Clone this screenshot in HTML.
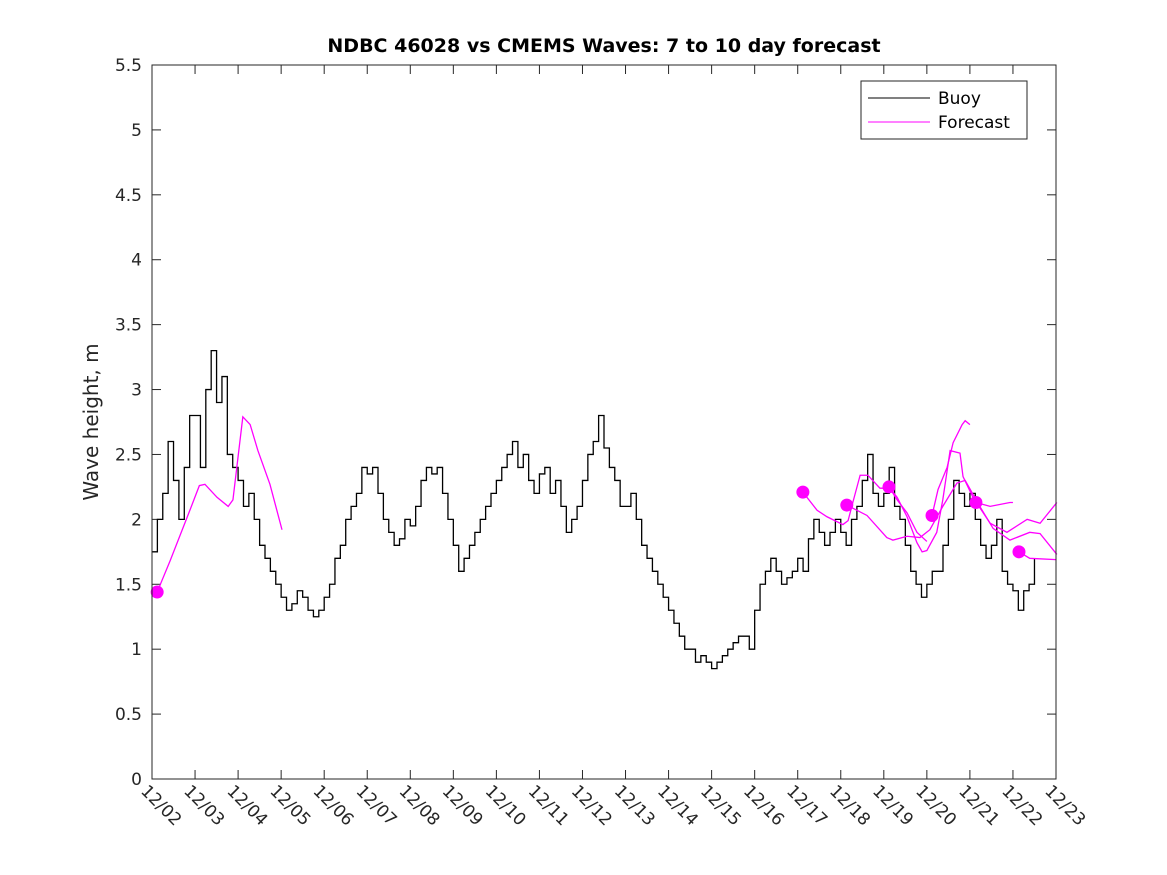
<!DOCTYPE html>
<html><head><meta charset="utf-8"><style>
body{margin:0;background:#fff;}
svg{display:block;font-family:"DejaVu Sans","Liberation Sans",sans-serif;}
</style></head><body>
<svg id="chart" width="1167" height="875" viewBox="0 0 1167 875" xmlns="http://www.w3.org/2000/svg">
<rect width="1167" height="875" fill="#fff"/>
<text x="604" y="52" text-anchor="middle" font-size="19" font-weight="bold" fill="#000">NDBC 46028 vs CMEMS Waves: 7 to 10 day forecast</text>
<text transform="translate(98,422) rotate(-90)" text-anchor="middle" font-size="20" fill="#262626">Wave height, m</text>
<g id="plot"></g>
<rect x="152" y="65" width="904" height="714" fill="none" stroke="#262626" stroke-width="1"/>
<g>
<rect x="861" y="81" width="166" height="58" fill="#fff" stroke="#262626" stroke-width="1"/>
<line x1="868" y1="98" x2="930" y2="98" stroke="#000" stroke-width="1"/>
<text x="938" y="104" font-size="17" fill="#000">Buoy</text>
<line x1="868" y1="122" x2="930" y2="122" stroke="#f0f" stroke-width="1"/>
<text x="938" y="128" font-size="17" fill="#000">Forecast</text>
</g>
</svg>
<script>
const xLabels=["12/02","12/03","12/04","12/05","12/06","12/07","12/08","12/09","12/10","12/11","12/12","12/13","12/14","12/15","12/16","12/17","12/18","12/19","12/20","12/21","12/22","12/23"];
const yTicks=[0,0.5,1,1.5,2,2.5,3,3.5,4,4.5,5,5.5];
const buoyStart=0, buoyStep=0.125;
const buoy=[1.75,2.0,2.2,2.6,2.3,2.0,2.4,2.8,2.8,2.4,3.0,3.3,2.9,3.1,2.5,2.4,2.3,2.1,2.2,2.0,1.8,1.7,1.6,1.5,1.4,1.3,1.35,1.45,1.4,1.3,1.25,1.3,1.4,1.5,1.7,1.8,2.0,2.1,2.2,2.4,2.35,2.4,2.2,2.0,1.9,1.8,1.85,2.0,1.95,2.1,2.3,2.4,2.35,2.4,2.2,2.0,1.8,1.6,1.7,1.8,1.9,2.0,2.1,2.2,2.3,2.4,2.5,2.6,2.4,2.5,2.3,2.2,2.35,2.4,2.2,2.3,2.1,1.9,2.0,2.1,2.3,2.5,2.6,2.8,2.55,2.4,2.3,2.1,2.1,2.2,2.0,1.8,1.7,1.6,1.5,1.4,1.3,1.2,1.1,1.0,1.0,0.9,0.95,0.9,0.85,0.9,0.95,1.0,1.05,1.1,1.1,1.0,1.3,1.5,1.6,1.7,1.6,1.5,1.55,1.6,1.7,1.6,1.85,2.0,1.9,1.8,1.9,2.0,1.9,1.8,2.0,2.1,2.3,2.5,2.2,2.1,2.2,2.4,2.1,2.0,1.8,1.6,1.5,1.4,1.5,1.6,1.6,1.8,2.0,2.3,2.2,2.1,2.2,2.0,1.8,1.7,1.8,2.0,1.6,1.5,1.45,1.3,1.45,1.5,1.7];
const f1Days=[0.12,0.42,0.88,1.10,1.23,1.51,1.77,1.88,2.11,2.28,2.46,2.74,3.02];
const f1Vals=[1.44,1.68,2.07,2.26,2.27,2.17,2.10,2.15,2.79,2.73,2.53,2.27,1.92];
const f2Days=[15.12,15.45,15.68,16.05,16.17,16.28,16.45,16.63,16.91,17.14,17.31,17.54,17.77,18.0];
const f2Vals=[2.21,2.07,2.02,1.96,1.99,2.13,2.34,2.34,2.24,2.24,2.15,2.05,1.90,1.83];
const f3Days=[16.14,16.61,17.07,17.21,17.54,17.84,18.07,18.37,18.70,18.89,19.23,19.54,19.93,20.39,20.63,21.02];
const f3Vals=[2.11,2.03,1.86,1.84,1.87,1.86,1.92,2.10,2.28,2.30,2.10,1.93,1.84,1.90,1.89,1.73];
const f4Days=[17.12,17.31,17.54,17.77,17.89,18.0,18.23,18.37,18.54,18.77,18.84,19.07,19.47,19.86,20.33,20.63,21.02];
const f4Vals=[2.25,2.17,2.02,1.82,1.75,1.76,1.90,2.15,2.53,2.51,2.33,2.17,1.97,1.90,2.00,1.97,2.13];
const f5Days=[18.12,18.26,18.47,18.61,18.82,18.89,19.0];
const f5Vals=[2.03,2.23,2.40,2.59,2.73,2.76,2.73];
const f6Days=[19.14,19.47,19.93,20.0];
const f6Vals=[2.13,2.10,2.13,2.13];
const f7Days=[20.14,20.39,21.0];
const f7Vals=[1.75,1.70,1.69];
const dotDays=[0.12,15.12,16.14,17.12,18.12,19.14,20.14];
const dotVals=[1.44,2.21,2.11,2.25,2.03,2.13,1.75];

const X0=152,X1=1056,Y0=779,Y1=65,DMAX=21,VMAX=5.5;
const xs=d=>X0+(X1-X0)*d/DMAX;
const ys=v=>Y0-(Y0-Y1)*v/VMAX;
const NS="http://www.w3.org/2000/svg";
const plot=document.getElementById('plot');
function mk(t,a){const e=document.createElementNS(NS,t);for(const k in a)e.setAttribute(k,a[k]);return e;}

yTicks.forEach((v,i)=>{
  const y=ys(v);
  const t1=mk('line',{x1:X0,y1:y,x2:X0+9,y2:y,stroke:'#262626'});
  
  
  plot.appendChild(t1);
  const t2=mk('line',{x1:X1,y1:y,x2:X1-9,y2:y,stroke:'#262626'});
  
  
  plot.appendChild(t2);
  const tx=mk('text',{x:X0-10,y:y+6,'text-anchor':'end','font-size':'17',fill:'#262626'});
  tx.textContent=String(v);
  
  
  plot.appendChild(tx);
});
xLabels.forEach((lab,i)=>{
  const x=xs(i);
  const t1=mk('line',{x1:x,y1:Y0,x2:x,y2:Y0-9,stroke:'#262626'});
  
  
  plot.appendChild(t1);
  const t2=mk('line',{x1:x,y1:Y1,x2:x,y2:Y1+9,stroke:'#262626'});
  
  
  plot.appendChild(t2);
  const tx=mk('text',{transform:`translate(${x-12},${Y0+13}) rotate(45)`,'font-size':'17',fill:'#262626'});
  tx.textContent=lab;
  
  
  plot.appendChild(tx);
});

let p='';
buoy.forEach((v,i)=>{
  const x=xs(buoyStart+i*buoyStep), y=ys(v);
  if(i===0)p+=`M${x},${y}`;else{p+=`L${x},${ys(buoy[i-1])}L${x},${y}`;}
});
const bl=mk('path',{d:p,fill:'none',stroke:'#000','stroke-width':'1.3'});


plot.appendChild(bl);

const fc=[[f1Days,f1Vals],[f2Days,f2Vals],[f3Days,f3Vals],[f4Days,f4Vals],[f5Days,f5Vals],[f6Days,f6Vals],[f7Days,f7Vals]];
fc.forEach((f,k)=>{
  const pts=f[0].map((d,i)=>`${xs(d)},${ys(f[1][i])}`).join(' ');
  const pl=mk('polyline',{points:pts,fill:'none',stroke:'#f0f','stroke-width':'1.3'});
  
  
  plot.appendChild(pl);
});
dotDays.forEach((d,i)=>{
  const c=mk('circle',{cx:xs(d),cy:ys(dotVals[i]),r:6.5,fill:'#f0f'});
  
  
  plot.appendChild(c);
});
</script>
</body></html>
